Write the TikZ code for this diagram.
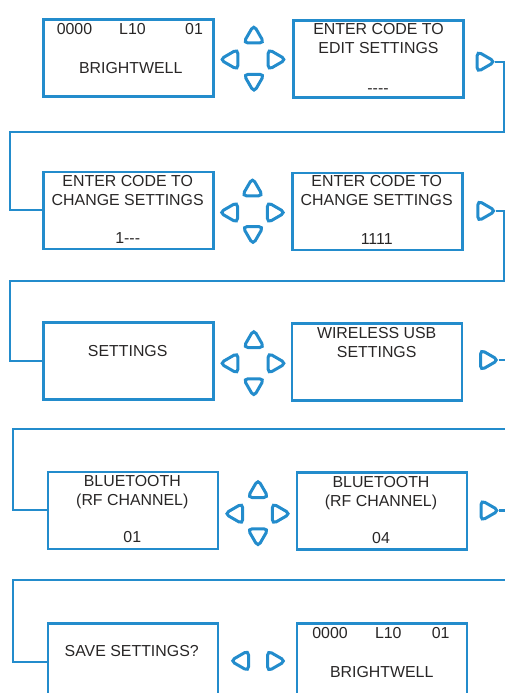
\documentclass[tikz,border=0pt]{standalone}
\usepackage{fontspec}
\setmainfont{Liberation Sans}
\usetikzlibrary{shapes.geometric}
\definecolor{lcdblue}{RGB}{35,140,204}
\definecolor{txtgray}{RGB}{40,38,38}
\tikzset{
  screen/.style={draw=lcdblue, line width=2.6pt, minimum width=170pt, minimum height=77pt, inner sep=0pt},
  lbl/.style={anchor=base, inner sep=0pt, text=txtgray, font=\fontsize{15.9}{19}\selectfont},
  btn/.style={draw=lcdblue, line width=3pt, regular polygon, regular polygon sides=3,
    minimum size=24pt, inner sep=0pt, outer sep=0pt, rounded corners=4.5pt},
  bup/.style={btn, regular polygon rotate=0, yshift=-1.7pt},
  bdown/.style={btn, regular polygon rotate=180, yshift=1.7pt},
  bleft/.style={btn, regular polygon rotate=90, xshift=1.7pt},
  bright/.style={btn, regular polygon rotate=-90, xshift=-1.7pt},
  link/.style={draw=lcdblue, line width=2.2pt}
}
\begin{document}
\begin{tikzpicture}[x=1pt,y=-1pt]
\useasboundingbox (0,0) rectangle (504,693);
% ---------- Row 1
\node[screen] (s1) at (128.2,58.2) {};
\node[screen] (s2) at (378.7,58.8) {};
\node[lbl] (s1a) at (74.5,34.3) {0000};
\node[lbl] (s1b) at (132.5,34.3) {L10};
\node[lbl] (s1c) at (194,34.3) {01};
\node[lbl] (s1d) at (130.7,74) {BRIGHTWELL};
\node[lbl] (s2a) at (378.5,34.3) {ENTER CODE TO};
\node[lbl] (s2b) at (378.5,54) {EDIT SETTINGS};
\node[lbl] (s2c) at (378,93) {-\kern0pt-\kern0pt-\kern0pt-};
\node[bup] (u1) at (253.8,35.3) {};
\node[bdown] (d1) at (254,82) {};
\node[bleft] (l1) at (230.2,59.5) {};
\node[bright] (r1) at (275.8,59.5) {};
\node[bright] (n1) at (484.8,61.7) {};
% ---------- Row 2
\node[screen] (s3) at (128.2,210.3) {};
\node[screen] (s4) at (377.2,211.3) {};
\node[lbl] (s3a) at (127.7,186) {ENTER CODE TO};
\node[lbl] (s3b) at (127.7,205) {CHANGE SETTINGS};
\node[lbl] (s3c) at (127.7,243.3) {1-\kern0pt-\kern0pt-};
\node[lbl] (s4a) at (376.7,186.5) {ENTER CODE TO};
\node[lbl] (s4b) at (376.7,205.5) {CHANGE SETTINGS};
\node[lbl] (s4c) at (376.7,244) {1111};
\node[bup] (u2) at (252.5,188.2) {};
\node[bdown] (d2) at (253,234.3) {};
\node[bleft] (l2) at (229.8,212.5) {};
\node[bright] (r2) at (275.1,212.5) {};
\node[bright] (n2) at (485.5,210.9) {};
% ---------- Row 3
\node[screen] (s5) at (128.2,361.2) {};
\node[screen] (s6) at (377,362.2) {};
\node[lbl] (s5a) at (127.7,356) {SETTINGS};
\node[lbl] (s6a) at (376.7,338.3) {WIRELESS USB};
\node[lbl] (s6b) at (376.7,357.3) {SETTINGS};
\node[bup] (u3) at (253.8,339.8) {};
\node[bdown] (d3) at (253.8,386.5) {};
\node[bleft] (l3) at (230.2,363.3) {};
\node[bright] (r3) at (275.8,363.3) {};
\node[bright] (n3) at (488.2,360) {};
% ---------- Row 4
\node[screen] (s7) at (132.8,510.3) {};
\node[screen] (s8) at (382,511) {};
\node[lbl] (s7a) at (132.3,486.7) {BLUETOOTH};
\node[lbl] (s7b) at (132.3,505.7) {(RF CHANNEL)};
\node[lbl] (s7c) at (132.3,542.7) {01};
\node[lbl] (s8a) at (381,487.3) {BLUETOOTH};
\node[lbl] (s8b) at (381,506.3) {(RF CHANNEL)};
\node[lbl] (s8c) at (381,543.3) {04};
\node[bup] (u4) at (258,489.8) {};
\node[bdown] (d4) at (258,536.5) {};
\node[bleft] (l4) at (235,513.7) {};
\node[bright] (r4) at (280,513.7) {};
\node[bright] (n4) at (488.7,510.5) {};
% ---------- Row 5
\node[screen] (s9) at (132.8,661.9) {};
\node[screen] (s10) at (381.8,662.2) {};
\node[lbl] (s9a) at (131.7,656.7) {SAVE SETTINGS?};
\node[lbl] (s10a) at (330,638.3) {0000};
\node[lbl] (s10b) at (388.3,638.3) {L10};
\node[lbl] (s10c) at (440.7,638.3) {01};
\node[lbl] (s10d) at (381.7,677.3) {BRIGHTWELL};
\node[bleft] (l5) at (240.8,660.8) {};
\node[bright] (r5) at (275.3,661) {};
% ---------- Connectors
\coordinate (e1) at (504.2,131.7);
\coordinate (w1) at (10,131.7);
\coordinate (e2) at (504.2,280.7);
\coordinate (w2) at (10,280.7);
\coordinate (e3) at (506,429.3);
\coordinate (w3) at (12.7,429.3);
\coordinate (e4) at (506,580);
\coordinate (w4) at (12.7,580);
\draw[link] (n1.corner 1) -| (e1) -- (w1) |- (s3.west);
\draw[link] (n2.corner 1) -| (e2) -- (w2) |- (s5.west);
\draw[link] (n3.corner 1) -| (e3) -- (w3) |- (s7.west);
\draw[link] (n4.corner 1) -| (e4) -- (w4) |- (s9.west);
\end{tikzpicture}
\end{document}
